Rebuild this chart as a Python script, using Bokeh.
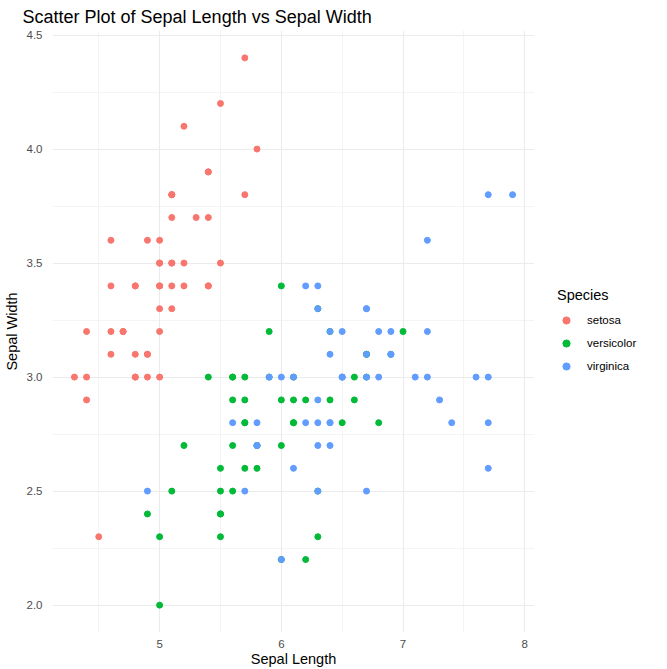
import numpy as np
from bokeh.plotting import figure
from bokeh.models import Legend, LegendItem, Range1d, FixedTicker
from bokeh.embed import file_html
from bokeh.resources import INLINE

# iris sepal measurements, by species
setosa_len = [5.1, 4.9, 4.7, 4.6, 5.0, 5.4, 4.6, 5.0, 4.4, 4.9, 5.4, 4.8, 4.8, 4.3, 5.8, 5.7, 5.4, 5.1, 5.7, 5.1,
              5.4, 5.1, 4.6, 5.1, 4.8, 5.0, 5.0, 5.2, 5.2, 4.7, 4.8, 5.4, 5.2, 5.5, 4.9, 5.0, 5.5, 4.9, 4.4, 5.1,
              5.0, 4.5, 4.4, 5.0, 5.1, 4.8, 5.1, 4.6, 5.3, 5.0]
setosa_wid = [3.5, 3.0, 3.2, 3.1, 3.6, 3.9, 3.4, 3.4, 2.9, 3.1, 3.7, 3.4, 3.0, 3.0, 4.0, 4.4, 3.9, 3.5, 3.8, 3.8,
              3.4, 3.7, 3.6, 3.3, 3.4, 3.0, 3.4, 3.5, 3.4, 3.2, 3.1, 3.4, 4.1, 4.2, 3.1, 3.2, 3.5, 3.6, 3.0, 3.4,
              3.5, 2.3, 3.2, 3.5, 3.8, 3.0, 3.8, 3.2, 3.7, 3.3]
versicolor_len = [7.0, 6.4, 6.9, 5.5, 6.5, 5.7, 6.3, 4.9, 6.6, 5.2, 5.0, 5.9, 6.0, 6.1, 5.6, 6.7, 5.6, 5.8, 6.2, 5.6,
                  5.9, 6.1, 6.3, 6.1, 6.4, 6.6, 6.8, 6.7, 6.0, 5.7, 5.5, 5.5, 5.8, 6.0, 5.4, 6.0, 6.7, 6.3, 5.6, 5.5,
                  5.5, 6.1, 5.8, 5.0, 5.6, 5.7, 5.7, 6.2, 5.1, 5.7]
versicolor_wid = [3.2, 3.2, 3.1, 2.3, 2.8, 2.8, 3.3, 2.4, 2.9, 2.7, 2.0, 3.0, 2.2, 2.9, 2.9, 3.1, 3.0, 2.7, 2.2, 2.5,
                  3.2, 2.8, 2.5, 2.8, 2.9, 3.0, 2.8, 3.0, 2.9, 2.6, 2.4, 2.4, 2.7, 2.7, 3.0, 3.4, 3.1, 2.3, 3.0, 2.5,
                  2.6, 3.0, 2.6, 2.3, 2.7, 3.0, 2.9, 2.9, 2.5, 2.8]
virginica_len = [6.3, 5.8, 7.1, 6.3, 6.5, 7.6, 4.9, 7.3, 6.7, 7.2, 6.5, 6.4, 6.8, 5.7, 5.8, 6.4, 6.5, 7.7, 7.7, 6.0,
                 6.9, 5.6, 7.7, 6.3, 6.7, 7.2, 6.2, 6.1, 6.4, 7.2, 7.4, 7.9, 6.4, 6.3, 6.1, 7.7, 6.3, 6.4, 6.0, 6.9,
                 6.7, 6.9, 5.8, 6.8, 6.7, 6.7, 6.3, 6.5, 6.2, 5.9]
virginica_wid = [3.3, 2.7, 3.0, 2.9, 3.0, 3.0, 2.5, 2.9, 2.5, 3.6, 3.2, 2.7, 3.0, 2.5, 2.8, 3.2, 3.0, 3.8, 2.6, 2.2,
                 3.2, 2.8, 2.8, 2.7, 3.3, 3.2, 2.8, 3.0, 2.8, 3.0, 2.8, 3.8, 2.8, 2.8, 2.6, 3.0, 3.4, 3.1, 3.0, 3.1,
                 3.1, 3.1, 2.7, 3.2, 3.3, 3.0, 2.5, 3.0, 3.4, 3.0]

species = ["setosa", "versicolor", "virginica"]
colors = ["#F8766D", "#00BA38", "#619CFF"]
x_ticks = [5, 6, 7, 8]
y_ticks = [2.0, 2.5, 3.0, 3.5, 4.0, 4.5]

FONT = "Liberation Sans"

p = figure(frame_width=482, frame_height=602,
           x_range=Range1d(4.12, 8.08), y_range=Range1d(1.88, 4.52),
           output_backend="svg", toolbar_location=None,
           title="Scatter Plot of Sepal Length vs Sepal Width",
           x_axis_label="Sepal Length", y_axis_label="Sepal Width",
           min_border_left=6, min_border_right=4, min_border_top=0, min_border_bottom=2)
p.outline_line_color = None

p.title.text_font = FONT
p.title.text_font_size = "18px"
p.title.text_font_style = "normal"
p.title.text_color = "#000000"
p.title.offset = -30
p.title.standoff = 8

for ax, ticks in ((p.xaxis, x_ticks), (p.yaxis, y_ticks)):
    step = ticks[1] - ticks[0]
    ax.ticker = FixedTicker(ticks=ticks, minor_ticks=[t - 0.5 * step for t in ticks + [ticks[-1] + step]])
    ax.axis_line_color = None
    ax.major_tick_line_color = None
    ax.minor_tick_line_color = None
    ax.major_label_text_font = FONT
    ax.major_label_text_font_size = "11.5px"
    ax.major_label_text_color = "#4D4D4D"
    ax.axis_label_text_font = FONT
    ax.axis_label_text_font_size = "14.5px"
    ax.axis_label_text_font_style = "normal"
    ax.axis_label_text_color = "#000000"

p.xaxis.major_label_standoff = 1
p.xaxis.axis_label_standoff = 0
p.yaxis.major_label_standoff = 4
p.yaxis.axis_label_standoff = 4
p.yaxis.major_label_overrides = {t: f"{t:.1f}" for t in y_ticks}

for g in (p.xgrid, p.ygrid):
    g.grid_line_color = "#EBEBEB"
    g.grid_line_width = 1.1
    g.minor_grid_line_color = "#EBEBEB"
    g.minor_grid_line_width = 0.55

items = []
for name, col, xs, ys in zip(species, colors,
                             [setosa_len, versicolor_len, virginica_len],
                             [setosa_wid, versicolor_wid, virginica_wid]):
    r = p.scatter(x=xs, y=ys, size=6, fill_color=col, line_color=col)
    items.append(LegendItem(label=name, renderers=[r]))

legend = Legend(items=items, title="Species", location="center_left",
                border_line_color=None, background_fill_color=None,
                title_text_font=FONT, title_text_font_size="14.5px", title_text_color="#000000",
                title_text_font_style="normal",
                label_text_font=FONT, label_text_font_size="11.5px", label_text_color="#000000",
                glyph_width=18, glyph_height=18, spacing=5, label_standoff=12,
                margin=23, padding=6, title_standoff=8)
p.add_layout(legend, "right")

open("out.html", "w").write(file_html(p, INLINE))
